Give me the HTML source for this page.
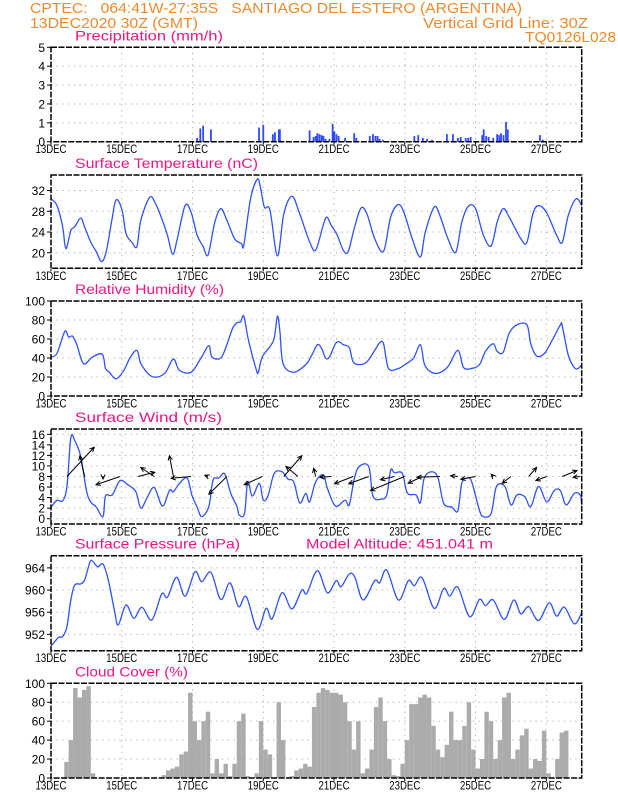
<!DOCTYPE html>
<html><head><meta charset="utf-8"><title>CPTEC Meteogram</title>
<style>
html,body{margin:0;padding:0;background:#fff;}
svg{display:block;font-family:"Liberation Sans","DejaVu Sans",sans-serif;}
.hdr{fill:#f08a2c;font-size:15px;white-space:pre;}
.ttl{fill:#f0157f;font-size:14px;white-space:pre;}
.tick{fill:#000;font-size:12px;}
</style></head>
<body>
<svg id="chart" width="618" height="800" viewBox="0 0 618 800">
<rect width="618" height="800" fill="#fff"/>
<text class="hdr" xml:space="preserve" x="30" y="13" textLength="492" lengthAdjust="spacingAndGlyphs">CPTEC:   064:41W-27:35S   SANTIAGO DEL ESTERO (ARGENTINA)</text>
<text class="hdr" x="30" y="28" textLength="168" lengthAdjust="spacingAndGlyphs">13DEC2020 30Z (GMT)</text>
<text class="hdr" x="423" y="28" textLength="165" lengthAdjust="spacingAndGlyphs">Vertical Grid Line: 30Z</text>
<text class="hdr" x="525" y="42" textLength="91" lengthAdjust="spacingAndGlyphs">TQ0126L028</text>
<g id="plots"></g>
</svg>
<script>
// ---- data (time in days since 13DEC 00Z) ----
const dayLabels = ["13DEC","15DEC","17DEC","19DEC","21DEC","23DEC","25DEC","27DEC"];
const dayLabelDays = [0,2,4,6,8,10,12,14];

const precipT = [4.13,4.22,4.30,4.52,5.88,6.00,6.27,6.33,6.44,6.47,7.31,7.42,7.48,7.53,7.59,7.65,7.70,7.76,7.87,7.96,8.01,8.07,8.13,8.31,8.57,8.63,9.01,9.10,9.17,9.23,9.29,9.38,10.27,10.38,10.51,10.63,10.77,11.19,11.36,11.50,11.58,11.72,11.79,11.86,12.19,12.23,12.30,12.37,12.50,12.61,12.67,12.72,12.79,12.86,12.91,13.82,13.90];
const precipV = [0.2,0.7,0.85,0.65,0.75,0.9,0.4,0.5,0.65,0.65,0.6,0.25,0.3,0.45,0.4,0.35,0.3,0.15,0.15,0.95,0.55,0.4,0.3,0.2,0.45,0.2,0.3,0.4,0.3,0.3,0.15,0.1,0.3,0.35,0.2,0.15,0.1,0.4,0.4,0.2,0.25,0.2,0.2,0.25,0.35,0.65,0.3,0.25,0.2,0.4,0.35,0.45,0.35,1.05,0.65,0.35,0.1];

const tempT = [0,0.17,0.33,0.42,0.56,0.67,0.84,0.95,1.12,1.28,1.43,1.56,1.71,1.84,2.01,2.12,2.29,2.43,2.54,2.79,2.96,3.13,3.29,3.44,3.57,3.79,3.96,4.13,4.30,4.44,4.63,4.80,4.97,5.19,5.38,5.45,5.64,5.83,5.92,6.03,6.19,6.40,6.58,6.81,7.03,7.31,7.48,7.68,7.79,7.92,8.09,8.26,8.40,8.57,8.76,8.93,9.15,9.40,9.60,9.82,9.99,10.21,10.44,10.58,10.83,10.99,11.22,11.44,11.61,11.80,12.00,12.22,12.44,12.61,12.78,12.95,13.28,13.45,13.62,13.78,14.01,14.29,14.45,14.62,14.84,15];
const tempV = [30.4,29.1,25,20.8,24.3,25,26.7,25,22.1,20.2,18.3,20.2,25.9,30.2,28.2,23.7,22,21.2,26.3,30.7,29.4,26.6,23.4,19.7,22.7,29.1,27.8,23.4,21.2,19.6,25.9,28.5,26.3,22.7,21.8,21.5,30.4,34.2,32.6,28.8,28.2,19.4,27.5,30.9,27.5,22.1,20.5,25,26.9,25.3,23.4,20.5,20.2,24.7,28.6,27.5,22.7,20.3,26.9,29.3,27.5,22.7,19.2,24,28.8,27.2,22.7,20.1,25.9,29,28.5,23.4,21.3,25.9,28.5,26.9,22.7,22,27.5,29.1,27.7,23.4,22,27.2,30.4,29.1];

const rhT = [0,0.17,0.39,0.50,0.61,0.73,0.92,1.17,1.45,1.54,1.65,1.84,2.06,2.23,2.43,2.54,2.79,3.01,3.24,3.46,3.63,3.96,4.24,4.46,4.55,4.80,4.97,5.13,5.25,5.36,5.45,5.58,5.80,5.86,5.97,6.19,6.31,6.40,6.47,6.56,6.86,7.20,7.37,7.53,7.65,7.76,7.87,8.04,8.15,8.26,8.43,8.54,8.73,8.93,9.15,9.29,9.40,9.54,9.82,10.04,10.25,10.44,10.55,10.71,10.94,11.22,11.50,11.66,11.89,12.11,12.28,12.50,12.61,12.78,12.95,13.17,13.45,13.56,13.73,13.95,14.17,14.40,14.45,14.62,14.79,14.90,15];
const rhV = [41,45,68,62,63,54,34,41,44,29,25,18,27,40,48,34,22,20,25,39,27,25,40,53,41,40,54,71,77,78,84,59,28,25,41,52,61,84,68,34,25,33,43,54,50,40,41,55,57,54,51,36,33,36,48,56,55,29,29,34,40,54,34,26,24,31,48,30,29,33,47,55,47,46,66,75,75,55,42,45,59,75,74,43,30,29,33];

const windT = [0,0.17,0.33,0.45,0.56,0.67,0.84,1.00,1.12,1.28,1.47,1.54,1.73,1.95,2.18,2.40,2.54,2.73,2.92,3.15,3.35,3.46,3.63,3.85,3.98,4.13,4.26,4.46,4.58,4.74,4.91,5.08,5.25,5.32,5.47,5.56,5.69,5.89,6.00,6.14,6.31,6.53,6.70,6.86,7.03,7.20,7.31,7.48,7.70,7.81,8.04,8.31,8.43,8.57,8.71,8.98,9.10,9.32,9.49,9.60,9.71,9.93,10.07,10.32,10.44,10.55,10.77,10.94,11.10,11.33,11.50,11.61,11.77,11.89,12.11,12.22,12.44,12.59,12.83,13.00,13.17,13.39,13.56,13.78,14.01,14.23,14.40,14.56,14.79,14.96,15];
const windV = [2.2,3.5,3.4,6.1,15.3,14.8,11.8,5.4,3.2,2.2,0.4,4.3,4.5,7.2,6.4,5.1,2,4.2,5.9,2.4,5.4,5.1,6.7,7.7,4.5,2.2,0.4,2.3,7.3,7.7,8.5,4.8,2.4,0.7,1,7,4.3,6.7,3.5,4.5,8.6,8.9,7.5,7,3,4.8,3.2,7,8.3,5.8,2.4,3.5,2.6,7.5,9.9,9.9,4.3,3.7,4.5,9.2,8.7,8.6,4.9,4.5,3,7.7,8.9,7.7,2.9,2.2,1.5,6.7,7.7,7,1.6,0.4,1,6.1,6.1,2.6,4.5,4.2,2.3,6.1,3.2,5.4,5.3,2.6,4.8,4.5,2.6];
const arrowT = [0.45,0.95,1.95,1.47,2.46,2.92,3.96,3.46,4.44,4.97,5.97,6.58,6.98,7.48,7.92,8.54,8.98,9.99,9.71,10.49,10.99,11.50,12.00,12.50,13.00,13.50,14.01,14.45,14.96];
const arrowU = [10.9,-1.9,-9.6,0,6.7,-5.4,-8,-1.6,-1.3,-7.2,-7.2,7.2,-4.8,-0.8,-4.5,-7.5,-8,-13.6,-5.6,-5.6,-9.1,-2.9,-5.9,-0.8,-3.5,3.2,-4.3,5.9,-2.9];
const arrowV = [11.7,8.3,-3.3,-1,1.7,3.6,-0.7,8.3,0.5,-7.1,-3.3,8.3,4,3.3,-0.3,-2.9,-2.9,-5.6,-1.3,-2.7,-0.3,0.3,-1.1,0.9,-2.7,3.6,-1.6,2.4,-0.3];

const presT = [0,0.11,0.22,0.33,0.45,0.56,0.67,0.84,0.95,1.06,1.14,1.32,1.47,1.62,1.79,1.90,2.12,2.34,2.57,2.85,3.13,3.29,3.55,3.79,4.07,4.26,4.52,4.80,5.06,5.30,5.52,5.83,6.08,6.25,6.53,6.81,7.09,7.23,7.53,7.81,8.06,8.20,8.43,8.59,8.82,9.15,9.29,9.49,9.82,10.10,10.27,10.49,10.83,11.10,11.27,11.50,11.83,12.11,12.28,12.50,12.81,13.08,13.28,13.50,13.78,14.08,14.29,14.51,14.79,15];
const presV = [949.9,950.7,951.5,951.6,953.4,958.2,960.9,961.1,961.8,964.2,965.4,964.2,964.7,961.8,956.4,953.7,957.3,954.9,956.9,954.6,959.3,958.7,962.3,958.9,963.3,961.5,963.2,958.3,961.3,957,958.8,952.9,956.7,954.8,959.5,956.6,960,959.4,963.5,959.5,961.7,960.6,962.9,962.3,958.2,961.7,961.3,963.6,958.2,961.7,960.8,962.2,956.7,960.3,958.9,960.5,955.2,958.3,957.2,958.2,954.7,958.2,955.7,957,954.5,957.7,955.3,956.9,953.9,955.9];

// cloud cover, 3-hourly from 13DEC 00Z
const cloudV = [0,0,0,17,40,95,85,93,97,5,0,0,0,0,0,0,0,0,0,0,0,0,0,0,0,3,8,10,12,25,28,90,60,40,60,70,5,20,5,15,2,15,60,68,2,0,5,60,30,25,0,80,40,0,2,8,10,15,12,75,90,95,93,90,90,88,80,60,30,60,5,10,30,75,85,60,20,3,2,15,40,78,78,85,88,85,55,30,22,35,70,40,40,55,80,30,10,20,70,60,20,40,85,90,20,30,45,52,10,20,18,50,5,0,20,48,50,0,0,0];

// ---- geometry ----
const X0 = 51, X1 = 581.7, DAYS = 15;
const xs = d => X0 + d * (X1 - X0) / DAYS;
const svg = document.getElementById('plots');
const NS = 'http://www.w3.org/2000/svg';
function mk(tag, attrs, parent) {
  const e = document.createElementNS(NS, tag);
  for (const k in attrs) e.setAttribute(k, attrs[k]);
  (parent || svg).appendChild(e);
  return e;
}

function panel(key, title, titleLen, top, bot, vmin, vmax, ticks, extraTitle) {
  const g = mk('g', {});
  
  
  const ys = v => bot - (v - vmin) * (bot - top) / (vmax - vmin);
  ticks.forEach(v => {
    const y = ys(v);
    if (y > top + 1 && y < bot - 1) {
      const l = mk('line', {x1: X0, x2: X1, y1: y, y2: y, stroke: '#aaa', 'stroke-width': 1, 'stroke-dasharray': '1.2,4.5'}, g);
      
      
    }
    const tk = mk('line', {x1: X0 - 4, x2: X0, y1: y, y2: y, stroke: '#000', 'stroke-width': 1}, g);
    
    
    const t = mk('text', {x: X0 - 6, y: y + 4.5, 'text-anchor': 'end', class: 'tick'}, g);
    t.textContent = String(v);
    
    
  });
  dayLabelDays.forEach((d, i) => {
    const x = xs(d);
    if (d > 0) {
      const l = mk('line', {x1: x, x2: x, y1: top, y2: bot, stroke: '#aaa', 'stroke-width': 1, 'stroke-dasharray': '1.2,4.5'}, g);
      
      
    }
    const tk = mk('line', {x1: x, x2: x, y1: bot, y2: bot + 3, stroke: '#000', 'stroke-width': 1}, g);
    
    
    const t = mk('text', {x: x - 15.5, y: bot + 11.5, class: 'tick', textLength: 31, lengthAdjust: 'spacingAndGlyphs'}, g);
    t.textContent = dayLabels[i];
    
    
  });
  const tt = mk('text', {x: 75, y: top - 7, class: 'ttl', textLength: titleLen, lengthAdjust: 'spacingAndGlyphs'}, g);
  tt.textContent = title;
  
  
  if (extraTitle) {
    const et = mk('text', {x: 306, y: top - 7, class: 'ttl', textLength: 187, lengthAdjust: 'spacingAndGlyphs'}, g);
    et.textContent = extraTitle;
    
    
  }
  return {g, ys, top, bot};
}
function frame(p, key) {
  const r = mk('rect', {x: X0, y: p.top, width: X1 - X0, height: p.bot - p.top, fill: 'none', stroke: '#000', 'stroke-width': 1.5, 'stroke-dasharray': '6,1.5'}, p.g);
  
  
}
function smoothPath(T, V, ys) {
  const P = T.map((t, i) => [xs(t), ys(V[i])]);
  let d = 'M' + P[0][0].toFixed(2) + ',' + P[0][1].toFixed(2);
  for (let i = 0; i < P.length - 1; i++) {
    const p0 = P[Math.max(0, i - 1)], p1 = P[i], p2 = P[i + 1], p3 = P[Math.min(P.length - 1, i + 2)];
    const c1 = [p1[0] + (p2[0] - p0[0]) / 6, p1[1] + (p2[1] - p0[1]) / 6];
    const c2 = [p2[0] - (p3[0] - p1[0]) / 6, p2[1] - (p3[1] - p1[1]) / 6];
    d += 'C' + c1[0].toFixed(2) + ',' + c1[1].toFixed(2) + ' ' + c2[0].toFixed(2) + ',' + c2[1].toFixed(2) + ' ' + p2[0].toFixed(2) + ',' + p2[1].toFixed(2);
  }
  return d;
}
function line(p, key, T, V) {
  const e = mk('path', {d: smoothPath(T, V, p.ys), fill: 'none', stroke: '#2f52ff', 'stroke-width': 1.3}, p.g);
  
  
}

// Precipitation
const pp = panel('precipitation', 'Precipitation (mm/h)', 148, 47.3, 141.7, 0, 5, [0,1,2,3,4,5]);
precipT.forEach((t, i) => {
  const y = pp.ys(precipV[i]);
  const b = mk('rect', {x: xs(t) - 0.9, y: y, width: 1.8, height: pp.ys(0) - y, fill: '#2f4bff'}, pp.g);
  
  
});
frame(pp, 'precipitation');

// Temperature
const tp = panel('temperature', 'Surface Temperature (nC)', 183, 175, 268.3, 17, 35, [20,24,28,32]);
line(tp, 'temperature', tempT, tempV);
frame(tp, 'temperature');

// Relative humidity
const hp = panel('humidity', 'Relative Humidity (%)', 149, 301, 396, 0, 100, [0,20,40,60,80,100]);
line(hp, 'humidity', rhT, rhV);
frame(hp, 'humidity');

// Wind
const wp = panel('wind', 'Surface Wind (m/s)', 147, 429, 524, -1, 17, [0,2,4,6,8,10,12,14,16]);
line(wp, 'wind', windT, windV);
const ARROW_SCALE = 2.5;
arrowT.forEach((t, i) => {
  const x0 = xs(t), y0 = wp.ys(8);
  const x1 = x0 + arrowU[i] * ARROW_SCALE, y1 = y0 - arrowV[i] * ARROW_SCALE;
  const ang = Math.atan2(y1 - y0, x1 - x0), h = 5;
  const a = mk('path', {d: 'M' + x0 + ',' + y0 + 'L' + x1 + ',' + y1 +
    'M' + (x1 - h * Math.cos(ang - 0.45)) + ',' + (y1 - h * Math.sin(ang - 0.45)) + 'L' + x1 + ',' + y1 +
    'L' + (x1 - h * Math.cos(ang + 0.45)) + ',' + (y1 - h * Math.sin(ang + 0.45)),
    fill: 'none', stroke: '#000', 'stroke-width': 1}, wp.g);
  
  
});
frame(wp, 'wind');

// Pressure
const prp = panel('pressure', 'Surface Pressure (hPa)', 165, 555.7, 650.7, 949.05, 966.2, [952,956,960,964], 'Model Altitude: 451.041 m');
line(prp, 'pressure', presT, presV);
frame(prp, 'pressure');

// Cloud cover
const cp = panel('cloud', 'Cloud Cover (%)', 113, 683.3, 778, 0, 100, [0,20,40,60,80,100]);
const step = 1 / 8;
cloudV.forEach((v, i) => {
  if (v <= 0) return;
  const xa = xs(i * step), xb = xs((i + 1) * step);
  const y = cp.ys(v);
  const b = mk('rect', {x: xa, y: y, width: xb - xa, height: cp.ys(0) - y, fill: '#ababab'}, cp.g);
  
  
});
frame(cp, 'cloud');
</script>
</body></html>
